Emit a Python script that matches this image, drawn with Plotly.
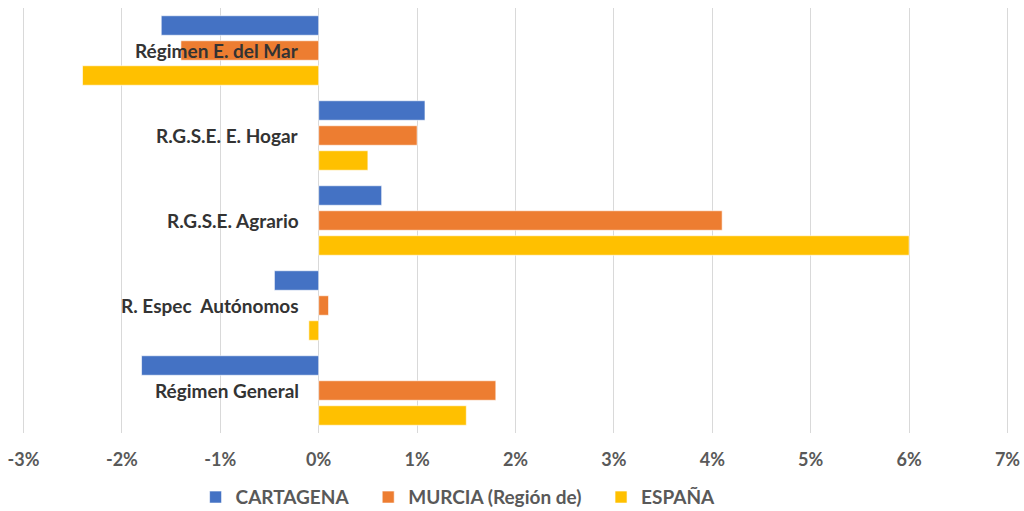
import plotly.graph_objects as go

# categorías (de arriba a abajo)
categorias = ["Régimen E. del Mar", "R.G.S.E. E. Hogar", "R.G.S.E. Agrario",
              "R. Espec  Autónomos", "Régimen General"]

# variación en %
cartagena = [-1.6, 1.08, 0.64, -0.45, -1.8]
murcia = [-1.4, 1.0, 4.1, 0.1, 1.8]
espana = [-2.4, 0.5, 6.0, -0.1, 1.5]

ticks = [-3, -2, -1, 0, 1, 2, 3, 4, 5, 6, 7]
tick_labels = [f"{t}%" for t in ticks]

fuente = "Lato"

fig = go.Figure()
series = [
    ("CARTAGENA", cartagena, "#4472C4"),
    ("MURCIA (Región de)", murcia, "#ED7D31"),
    ("ESPAÑA", espana, "#FFC000"),
]
for nombre, valores, color in series:
    fig.add_trace(go.Bar(
        y=categorias,
        x=valores,
        # espacios finales para separar las entradas de la leyenda
        name=f"<b>{nombre}</b>&nbsp;&nbsp;&nbsp;",
        orientation="h",
        marker=dict(color=color, line=dict(color="white", width=0.6)),
    ))

# etiquetas de categoría junto al eje 0
for cat in categorias:
    fig.add_annotation(
        x=0, y=cat, xref="x", yref="y",
        text=f"<b>{cat}</b>",
        showarrow=False,
        xanchor="right",
        xshift=-18,
        font=dict(family=fuente, size=19, color="#333333"),
    )

fig.update_layout(
    width=1024,
    height=511,
    barmode="group",
    bargap=0.118,
    bargroupgap=0.22,
    plot_bgcolor="white",
    paper_bgcolor="white",
    margin=dict(l=22, r=15, t=8, b=78, autoexpand=False),
    font=dict(family=fuente),
    legend=dict(
        orientation="h",
        xref="container",
        x=0.191, xanchor="left",
        yref="container",
        y=0.027, yanchor="middle",
        font=dict(family=fuente, size=19, color="#595959"),
        itemwidth=30,
        traceorder="normal",
    ),
    showlegend=True,
)

# rango algo más ancho para que se dibujen las líneas de -3% y 7%
fig.update_xaxes(
    range=[-3.015, 7.015],
    tickvals=ticks,
    ticktext=[f"<b>{t}</b>" for t in tick_labels],
    showgrid=True,
    gridcolor="#D9D9D9",
    gridwidth=1.3,
    zeroline=False,
    showline=False,
    automargin=False,
    tickfont=dict(family=fuente, size=18, color="#595959"),
    ticks="",
    ticklabelstandoff=14,
)
fig.update_yaxes(
    autorange="reversed",
    showticklabels=False,
    showgrid=False,
    zeroline=False,
    showline=False,
    automargin=False,
    ticks="",
)

# quitar el margen por defecto del body para que la figura ocupe la ventana
fig.write_html(
    "out.html",
    config={"displayModeBar": False},
    post_script="document.body.style.margin='0';",
)
